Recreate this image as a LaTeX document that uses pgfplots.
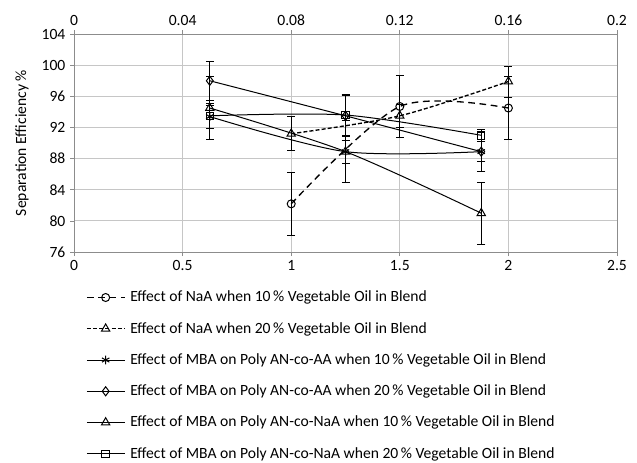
\documentclass[border=0pt]{standalone}
\usepackage{fontspec}
\setmainfont{Carlito}
\usepackage{pgfplots}
\pgfplotsset{compat=1.18}
\usepackage{pgfplotstable}

% x, mean efficiency, standard deviation
\pgfplotstableread{
x     y     e
1     82.2  4.0
1.5   94.7  4.0
2     94.5  4.0
}\naaTen
\pgfplotstableread{
x     y     e
1     91.2  2.2
1.5   93.5  1.5
2     97.9  2.0
}\naaTwenty
\pgfplotstableread{
x     y     e
0.625 93.4  1.5
1.25  88.9  1.5
1.875 88.9  1.3
}\mbaAaTen
\pgfplotstableread{
x     y     e
0.625 98.0  2.5
1.25  93.5  2.6
1.875 88.9  2.5
}\mbaAaTwenty
\pgfplotstableread{
x     y     e
0.625 94.5  4.0
1.25  88.9  4.0
1.875 81.0  4.0
}\mbaNaaTen
\pgfplotstableread{
x     y     e
0.625 93.5  1.6
1.25  93.6  2.6
1.875 91.0  0.8
}\mbaNaaTwenty

\definecolor{gridgray}{HTML}{C6C6C6}
\definecolor{axisgray}{HTML}{8C8C8C}

\newcommand\chartfont{\fontsize{11.7}{14}\selectfont}

\begin{document}
\begin{tikzpicture}
\pgfplotsset{
  common/.style={
    scale only axis, width=407pt, height=163.5pt,
    /pgf/number format/assume math mode=true,
    tick label style={font=\chartfont},
    axis line style={axisgray, line width=0.6pt},
    tick style={axisgray, line width=0.6pt},
    tick align=outside, major tick length=3pt,
  },
  series/.style={black, line width=0.75pt, smooth, tension=0.5,
    mark options={solid, line width=0.75pt},
    error bars/y dir=both, error bars/y explicit,
    error bars/error bar style={black, line width=0.6pt, solid},
    error bars/error mark options={rotate=90, mark size=3pt, black,
      line width=0.6pt, solid}},
}
\begin{axis}[common, name=main,
  xmin=0, xmax=2.5, ymin=76, ymax=104,
  xtick={0,0.5,1,1.5,2,2.5},
  ytick={76,80,84,88,92,96,100,104},
  xtick pos=bottom, ytick pos=left,
  grid=major, grid style={gridgray, line width=0.75pt},
  ylabel={Separation Efficiency \%},
  every axis y label/.style={at={(axis description cs:-0.096,0.5)},
    anchor=center, rotate=90, font=\chartfont},
  legend cell align=left,
  legend style={draw=none, fill=none, inner sep=0pt,
    at={(axis description cs:0,0)}, anchor=north west,
    xshift=9pt, yshift=-27.5pt, row sep=10.8pt,
    font=\chartfont,
    nodes={inner ysep=1.5pt, inner xsep=4pt}},
  legend image code/.code={%
    \draw[mark repeat=2, mark phase=2, #1]
      plot coordinates {(0pt,0pt) (14pt,0pt) (28pt,0pt)};},
]
\addplot[series, line width=1pt, dash pattern=on 5pt off 3.5pt, mark=o, mark size=3pt]
  table[x=x, y=y, y error=e] {\naaTen};
\addlegendentry{Effect of NaA when 10\,\% Vegetable Oil in Blend}
\addplot[series, line width=1pt, dash pattern=on 3pt off 1.6pt, mark=triangle, mark size=3.6pt]
  table[x=x, y=y, y error=e] {\naaTwenty};
\addlegendentry{Effect of NaA when 20\,\% Vegetable Oil in Blend}
\addplot[series, mark=asterisk, mark size=3.2pt]
  table[x=x, y=y, y error=e] {\mbaAaTen};
\addlegendentry{Effect of MBA on Poly AN-co-AA when 10\,\% Vegetable Oil in Blend}
\addplot[series, mark=diamond, mark size=3.4pt]
  table[x=x, y=y, y error=e] {\mbaAaTwenty};
\addlegendentry{Effect of MBA on Poly AN-co-AA when 20\,\% Vegetable Oil in Blend}
\addplot[series, mark=triangle, mark size=3.6pt]
  table[x=x, y=y, y error=e] {\mbaNaaTen};
\addlegendentry{Effect of MBA on Poly AN-co-NaA when 10\,\% Vegetable Oil in Blend}
\addplot[series, mark=square, mark size=2.8pt]
  table[x=x, y=y, y error=e] {\mbaNaaTwenty};
\addlegendentry{Effect of MBA on Poly AN-co-NaA when 20\,\% Vegetable Oil in Blend}
\end{axis}

% secondary scale along the top edge
\begin{axis}[common, at={(main.south west)}, anchor=south west,
  xmin=0, xmax=0.2, ymin=0, ymax=1,
  axis x line*=top, axis y line=none,
  xtick={0,0.04,0.08,0.12,0.16,0.2},
  xticklabels={0,0.04,0.08,0.12,0.16,0.2},
]
\end{axis}

\path ([shift={(-55.5pt,-156.75pt)}]main.south west)
  rectangle ([shift={(15pt,25.5pt)}]main.north east);
\end{tikzpicture}
\end{document}
